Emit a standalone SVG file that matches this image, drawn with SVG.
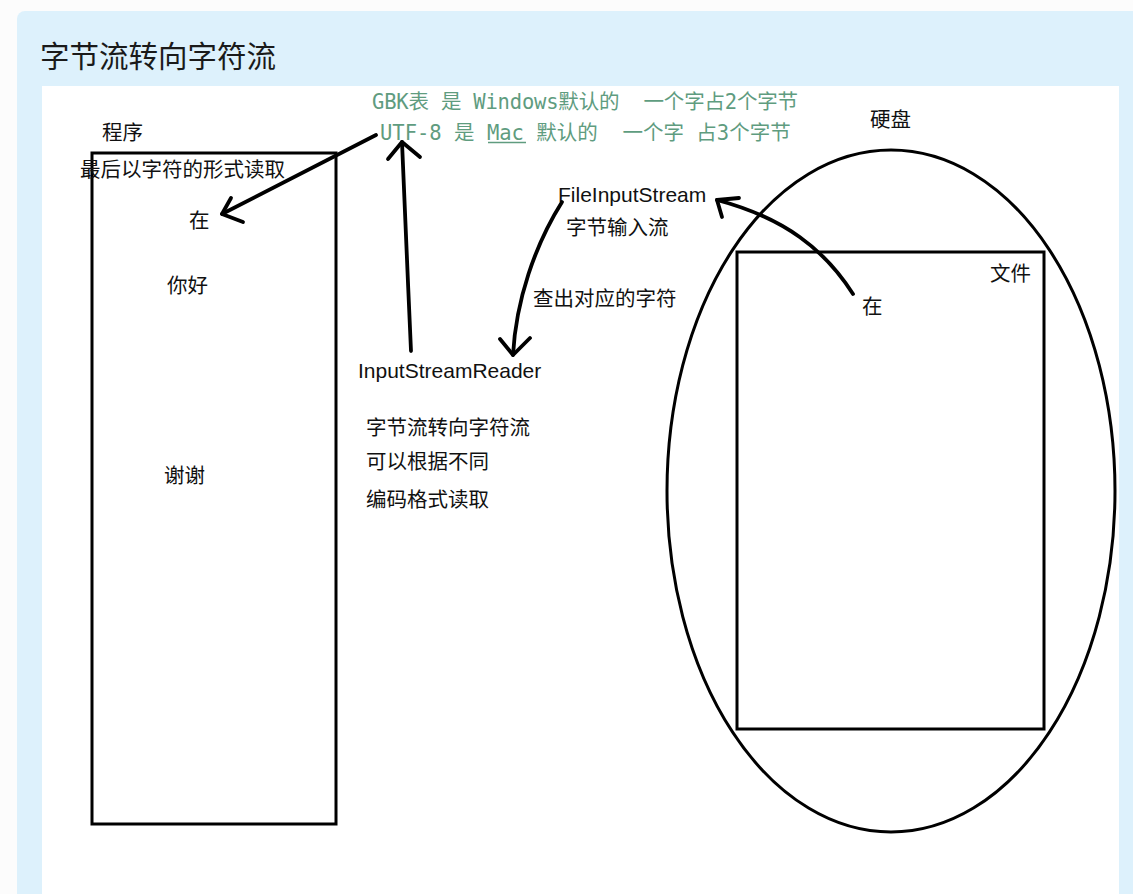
<svg xmlns="http://www.w3.org/2000/svg" width="1133" height="894" viewBox="0 0 1133 894">
  <defs>
    <style>
      .cn { font-family: "Liberation Sans", "Noto Sans CJK SC", sans-serif; font-size: 20.5px; fill: #111; }
      .lat { font-family: "Liberation Sans", "Noto Sans CJK SC", sans-serif; font-size: 21px; fill: #111; }
      .mono { font-family: "DejaVu Sans Mono", "Noto Sans CJK SC", monospace; font-size: 20.5px; fill: #5f9c7f; white-space: pre; }
      .title { font-family: "Noto Sans CJK SC", sans-serif; font-size: 29.5px; fill: #1a1a1a; }
      .shape { fill: none; stroke: #000; stroke-width: 3; }
      .ink { fill: none; stroke: #000; stroke-width: 3.8; stroke-linecap: round; stroke-linejoin: round; }
    </style>
  </defs>

  <rect x="0" y="0" width="1133" height="894" fill="#fcfcfc"/>
  <rect x="17" y="11" width="1140" height="910" rx="8" fill="#ddf1fc"/>
  <rect x="42" y="86" width="1077" height="820" fill="#ffffff"/>

  <text class="title" x="40" y="67">字节流转向字符流</text>

  <g id="encoding-note">
    <text class="mono" x="372" y="109" textLength="426" lengthAdjust="spacing">GBK表 是 Windows默认的  一个字占2个字节</text>
    <text class="mono" x="380" y="139.5">UTF-8 是 Mac 默认的  一个字 占3个字节</text>
    <line x1="488" y1="142.5" x2="526" y2="142.5" stroke="#5f9c7f" stroke-width="1.6"/>
  </g>

  <g id="program">
    <rect class="shape" x="92" y="153" width="244" height="671"/>
    <text class="cn" x="102" y="140">程序</text>
    <text class="cn" x="80" y="177">最后以字符的形式读取</text>
    <text class="cn" x="189" y="228">在</text>
    <text class="cn" x="167" y="293">你好</text>
    <text class="cn" x="164" y="483">谢谢</text>
  </g>

  <g id="disk">
    <ellipse class="shape" cx="891" cy="491" rx="224" ry="341" stroke-width="3.3"/>
    <text class="cn" x="870" y="127">硬盘</text>
  </g>

  <g id="file">
    <rect class="shape" x="737" y="252" width="307" height="477"/>
    <text class="cn" x="990" y="281">文件</text>
    <text class="cn" x="862" y="314">在</text>
  </g>

  <g id="file-input-stream">
    <text class="lat" x="558" y="202">FileInputStream</text>
    <text class="cn" x="566" y="235">字节输入流</text>
    <text class="cn" x="533" y="306">查出对应的字符</text>
  </g>

  <g id="input-stream-reader">
    <text class="lat" x="358" y="378">InputStreamReader</text>
    <text class="cn" x="366" y="435">字节流转向字符流</text>
    <text class="cn" x="366" y="469">可以根据不同</text>
    <text class="cn" x="366" y="507">编码格式读取</text>
  </g>

  <g id="connectors">
    <path class="ink" d="M376,135 L222,214"/>
    <path class="ink" d="M231,198 L222,214 L243,222"/>
    <path class="ink" d="M411,351 C408,280 404,200 402,142"/>
    <path class="ink" d="M388,159 L402,142 L420,157"/>
    <path class="ink" d="M562,202 C535,245 516,300 513,355"/>
    <path class="ink" d="M500,339 L513,355 L530,338"/>
    <path class="ink" d="M853,294 C825,250 785,218 717,200"/>
    <path class="ink" d="M739,198 L717,200 L722,217"/>
  </g>
</svg>
